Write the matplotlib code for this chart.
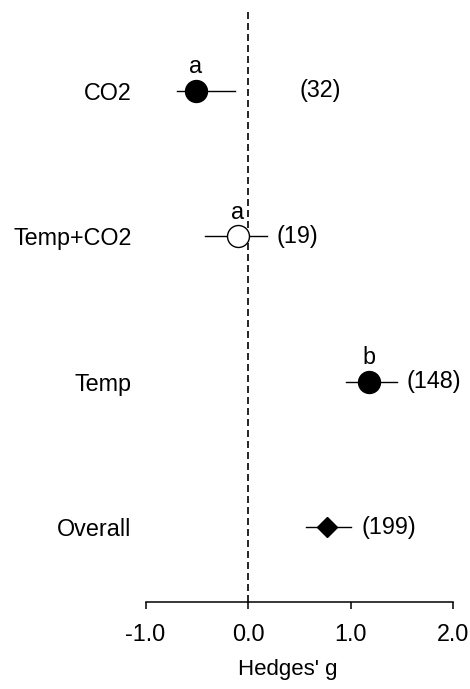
import matplotlib
matplotlib.use("Agg")

import matplotlib.pyplot as plt

plt.rcParams["font.family"] = ["Liberation Sans", "DejaVu Sans"]

# ── data ───────────────────────────────────────────────
labels  = ["CO2", "Temp+CO2", "Temp", "Overall"]
ypos    = [4, 3, 2, 1]
g_mean  = [-0.51, -0.10, 1.18, 0.77]
ci_low  = [-0.69, -0.42, 0.95, 0.56]
ci_high = [-0.13, 0.18, 1.45, 1.00]
counts  = ["(32)", "(19)", "(148)", "(199)"]
count_x = [0.70, 0.48, 1.81, 1.37]
letters = ["a", "a", "b", ""]
markers = ["o", "o", "o", "D"]
filled  = [True, False, True, True]

FS = 16.8
W, H = 470, 689
fig = plt.figure(figsize=(W / 100, H / 100), dpi=100)
ax = fig.add_axes([145.5 / W, (H - 602) / H, (453.3 - 145.5) / W, (602 - 12) / H])

ax.set_xlim(-1.0, 2.0)
ax.set_ylim(0.485, 4.54)

ax.axvline(0, color="black", lw=1.2, dashes=(4.2, 2.4), zorder=1)

for y, m, lo, hi, mk, f, let, c, cx in zip(ypos, g_mean, ci_low, ci_high,
                                           markers, filled, letters, counts, count_x):
    ax.plot([lo, hi], [y, y], color="black", lw=1.0, zorder=2)
    ms = 15.8 if mk == "o" else 10.2
    ax.plot(m, y, marker=mk, ms=ms, mfc="black" if f else "white",
            mec="black", mew=1.0, zorder=3, clip_on=False)
    if let:
        ax.text(m, y + 0.165, let, ha="center", va="center", fontsize=FS)
    ax.text(cx, y, c, ha="center", va="center", fontsize=FS, clip_on=False)

ax.set_yticks(ypos)
ax.set_yticklabels(labels, fontsize=FS)
ax.tick_params(axis="y", length=0, pad=10)

ax.set_xticks([-1, 0, 1, 2])
ax.set_xticklabels(["-1.0", "0.0", "1.0", "2.0"], fontsize=FS)
ax.tick_params(axis="x", length=5, width=1.1, pad=10)

for s in ["top", "right", "left"]:
    ax.spines[s].set_visible(False)
ax.spines["bottom"].set_linewidth(1.1)

ax.set_xlabel("Hedges' g", fontsize=16)
ax.xaxis.set_label_coords(0.463, -0.097)

fig.savefig("out.png", dpi=100)
